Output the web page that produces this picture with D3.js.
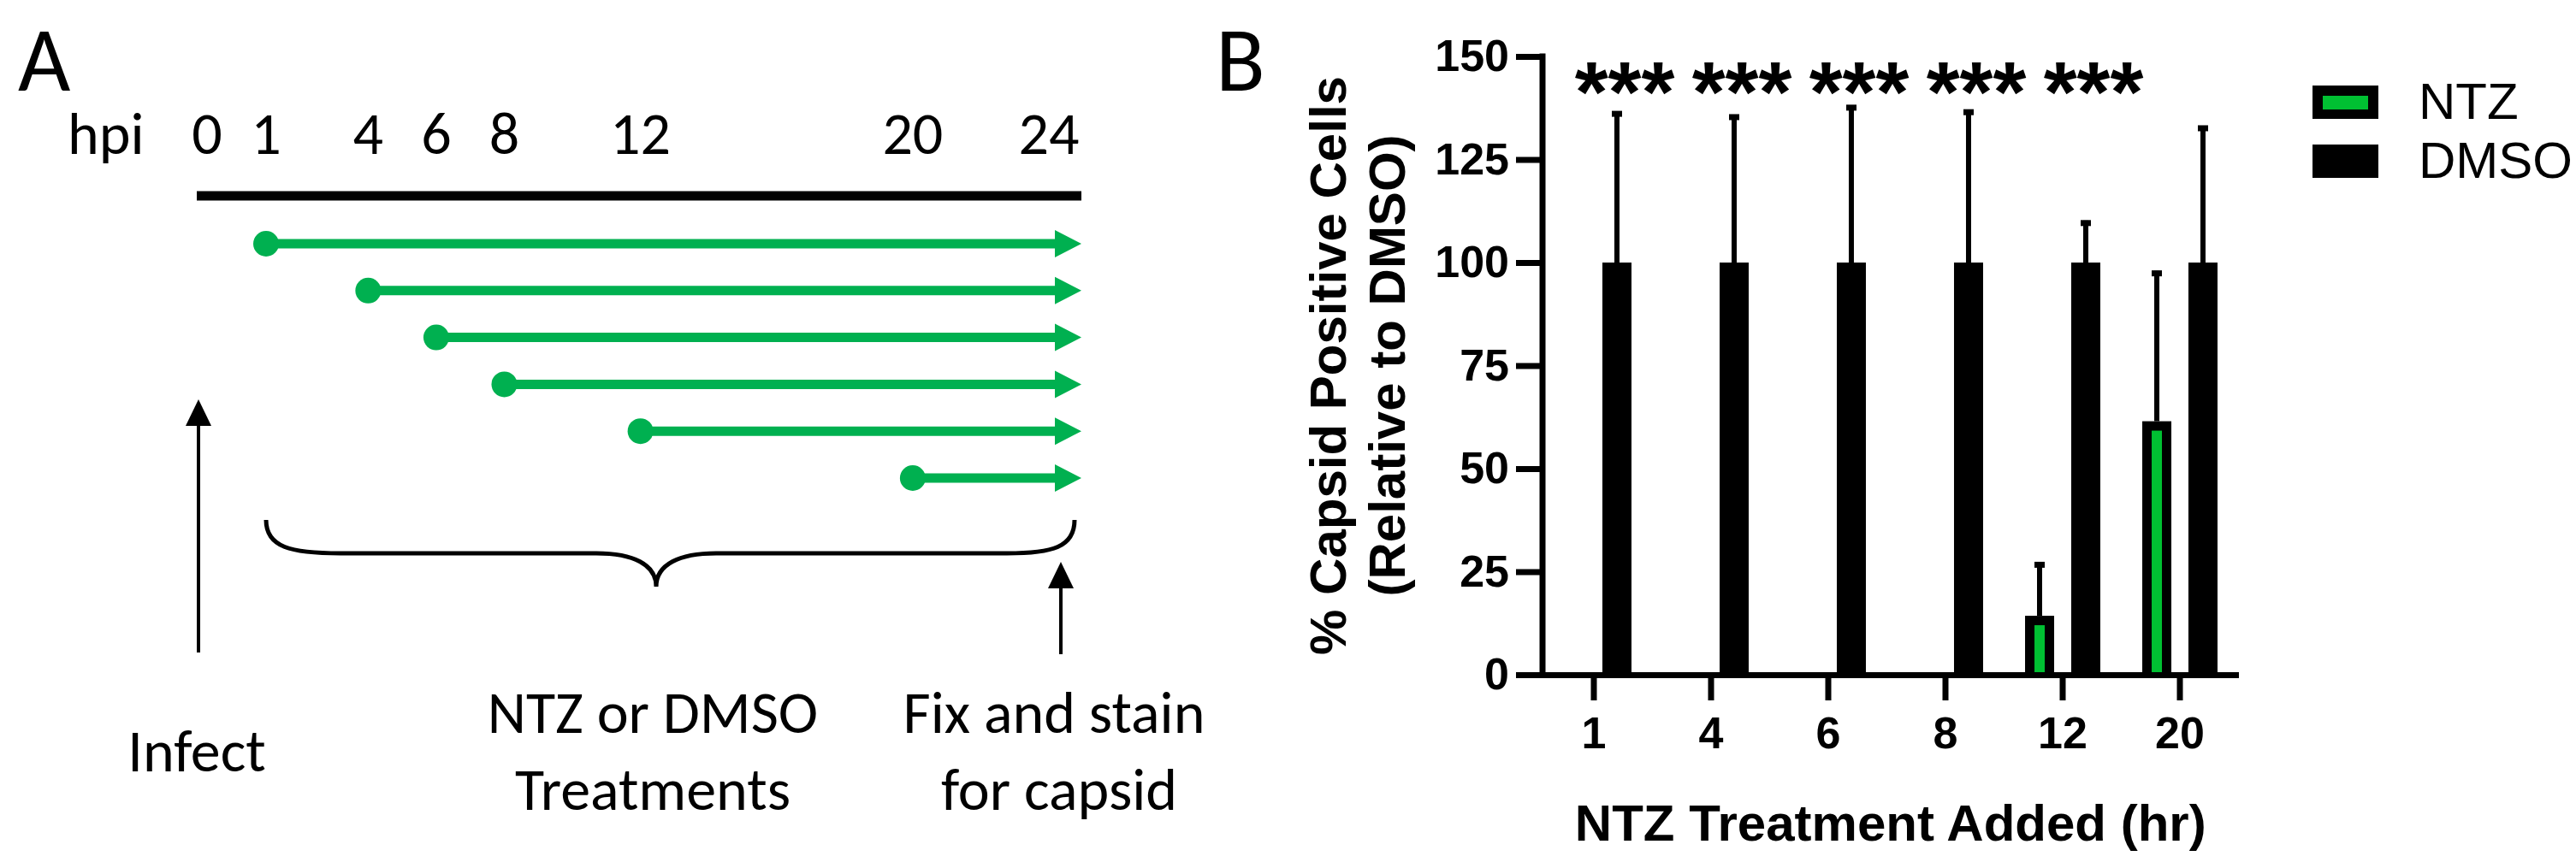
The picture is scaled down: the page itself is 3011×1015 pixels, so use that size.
<!DOCTYPE html>
<html>
<head>
<meta charset="utf-8">
<script src="https://cdn.jsdelivr.net/npm/d3@7"></script>
<style>
  html, body { margin: 0; padding: 0; background: #ffffff; }
  svg { display: block; }
</style>
</head>
<body>
<script>
// ---------------- DATA ----------------
// Panel A: timeline (hours post infection)
const hpiTicks = [0, 1, 4, 6, 8, 12, 20, 24];
const treatStarts = [1, 4, 6, 8, 12, 20];
const treatEnd = 24;

// Panel B: bar chart
const categories = ["1", "4", "6", "8", "12", "20"];
const series = ["NTZ", "DMSO"];
const ntzMean = [0, 0, 0, 0, 14.3, 61.5];
const ntzErr  = [0, 0, 0, 0, 13.0, 36.5];
const dmsoMean = [100, 100, 100, 100, 100, 100];
const dmsoErr  = [36.7, 35.9, 38.2, 37.1, 10.2, 33.2];
const significance = ["***", "***", "***", "***", "***", ""];
const yTicks = [0, 25, 50, 75, 100, 125, 150];

// ---------------- SETUP ----------------
const W = 3011, H = 1015;
const svg = d3.select("body").append("svg").attr("width", W).attr("height", H);
svg.append("rect").attr("width", W).attr("height", H).attr("fill", "#ffffff");

const fontA = "Carlito, Calibri, Lato, 'Open Sans', sans-serif";
const fontB = "'Liberation Sans', Arial, Helvetica, sans-serif";
const arrowGreen = "#00B050";
const barGreen = "#00C032";

// ================= PANEL A =================
const gA = svg.append("g");
gA.append("text").attr("x", 21).attr("y", 106).attr("font-family", fontA)
  .attr("font-size", 106).attr("fill", "#000").text("A");

// the drawn timeline leaves a wider gap between 0 and 1 hpi
const xh = d3.scaleLinear().domain([0, 1, treatEnd]).range([242, 311, 1226]);
const fsA = 70;

gA.append("text").attr("x", 79).attr("y", 180).attr("font-family", fontA)
  .attr("font-size", fsA).attr("fill", "#000").text("hpi");
gA.selectAll("text.hpi").data(hpiTicks).join("text").attr("class", "hpi")
  .attr("x", d => xh(d)).attr("y", 180).attr("text-anchor", "middle")
  .attr("font-family", fontA).attr("font-size", fsA).attr("fill", "#000")
  .text(d => d);

const lineStart = xh(0) - 12, tipX = xh(treatEnd) + 38;
gA.append("line").attr("x1", lineStart).attr("x2", tipX).attr("y1", 229).attr("y2", 229)
  .attr("stroke", "#000").attr("stroke-width", 11);

const row = d3.scalePoint().domain(treatStarts).range([285, 559]);
const arrows = gA.selectAll("g.arrow").data(treatStarts).join("g").attr("class", "arrow");
arrows.append("line")
  .attr("x1", d => xh(d)).attr("x2", tipX - 28)
  .attr("y1", d => row(d)).attr("y2", d => row(d))
  .attr("stroke", arrowGreen).attr("stroke-width", 11);
arrows.append("circle").attr("cx", d => xh(d)).attr("cy", d => row(d)).attr("r", 15)
  .attr("fill", arrowGreen);
arrows.append("path")
  .attr("d", d => `M${tipX},${row(d)} L${tipX - 31},${row(d) - 16} L${tipX - 31},${row(d) + 16} Z`)
  .attr("fill", arrowGreen);

// black up arrows
function upArrow(x, yBottom, yTip) {
  gA.append("line").attr("x1", x).attr("x2", x).attr("y1", yBottom).attr("y2", yTip + 25)
    .attr("stroke", "#000").attr("stroke-width", 4);
  gA.append("path").attr("d", `M${x},${yTip} L${x - 15},${yTip + 31} L${x + 15},${yTip + 31} Z`)
    .attr("fill", "#000");
}
upArrow(232, 763, 467);
upArrow(1240, 765, 657);

// brace
gA.append("path")
  .attr("d", "M311,608 C311,640 340,647 398,647 L697,647 C740,647 767,660 767,686 " +
             "C767,660 794,647 837,647 L1177,647 C1230,647 1256,640 1256,608")
  .attr("fill", "none").attr("stroke", "#000").attr("stroke-width", 5);

const labA = [
  {t: "Infect", x: 230, y: 902},
  {t: "NTZ or DMSO", x: 763, y: 857},
  {t: "Treatments", x: 763, y: 947},
  {t: "Fix and stain", x: 1232, y: 857},
  {t: "for capsid", x: 1238, y: 947}
];
gA.selectAll("text.lab").data(labA).join("text").attr("class", "lab")
  .attr("x", d => d.x).attr("y", d => d.y).attr("text-anchor", "middle")
  .attr("font-family", fontA).attr("font-size", fsA).attr("fill", "#000").text(d => d.t);

// ================= PANEL B =================
const gB = svg.append("g");
gB.append("text").attr("x", 1421).attr("y", 106).attr("font-family", fontA)
  .attr("font-size", 106).attr("fill", "#000").text("B");

const y = d3.scaleLinear().domain([0, 150]).range([789, 66]);
const x0 = d3.scaleBand().domain(categories).range([1794.5, 2616.5])
  .paddingInner(0.358).paddingOuter(0.179);
const x1 = d3.scaleBand().domain(series).range([0, x0.bandwidth()]).paddingInner(0.37);
const axisX = 1803;
const sw = 7;

// bars
const rows = categories.map((c, i) => ({
  c, i,
  vals: [
    {s: "NTZ", v: ntzMean[i], e: ntzErr[i]},
    {s: "DMSO", v: dmsoMean[i], e: dmsoErr[i]}
  ]
}));
const grp = gB.selectAll("g.grp").data(rows).join("g").attr("class", "grp")
  .attr("transform", d => `translate(${x0(d.c)},0)`);

const bars = grp.selectAll("g.bar").data(d => d.vals.filter(v => v.v > 0)).join("g").attr("class", "bar");
// error bars (upper only)
bars.filter(d => d.e > 0).append("line")
  .attr("x1", d => x1(d.s) + x1.bandwidth() / 2).attr("x2", d => x1(d.s) + x1.bandwidth() / 2)
  .attr("y1", d => y(d.v)).attr("y2", d => y(d.v + d.e))
  .attr("stroke", "#000").attr("stroke-width", 6);
bars.filter(d => d.e > 0).append("line")
  .attr("x1", d => x1(d.s) + x1.bandwidth() / 2 - 6).attr("x2", d => x1(d.s) + x1.bandwidth() / 2 + 6)
  .attr("y1", d => y(d.v + d.e) + 3).attr("y2", d => y(d.v + d.e) + 3)
  .attr("stroke", "#000").attr("stroke-width", 7);
bars.append("rect")
  .attr("x", d => x1(d.s)).attr("width", x1.bandwidth())
  .attr("y", d => y(d.v)).attr("height", d => y(0) - y(d.v))
  .attr("fill", "#000");
const border = 11;
bars.filter(d => d.s === "NTZ").append("rect")
  .attr("x", d => x1(d.s) + border).attr("width", x1.bandwidth() - 2 * border)
  .attr("y", d => y(d.v) + border).attr("height", d => Math.max(0, y(0) - y(d.v) - border - 3))
  .attr("fill", barGreen);

// y axis
const yAxis = gB.append("g").attr("transform", `translate(${axisX},0)`)
  .call(d3.axisLeft(y).tickValues(yTicks).tickSize(31).tickSizeOuter(0).tickPadding(8));
// x axis
const xAxis = gB.append("g").attr("transform", `translate(0,${y(0)})`)
  .call(d3.axisBottom(x0).tickSize(30).tickSizeOuter(0).tickPadding(19));

[yAxis, xAxis].forEach(a => {
  a.select(".domain").attr("stroke", "#000").attr("stroke-width", sw);
  a.selectAll(".tick line").attr("stroke", "#000").attr("stroke-width", sw);
  a.selectAll(".tick text").attr("fill", "#000").attr("font-family", fontB)
    .attr("font-weight", "bold").attr("font-size", 52);
});
yAxis.select(".domain").attr("d", `M0,${y(0) + 3.5}V${y(150) - 3.5}`);

// significance stars
gB.selectAll("text.sig").data(categories.map((c, i) => ({c, s: significance[i]})).filter(d => d.s))
  .join("text").attr("class", "sig")
  .attr("x", d => x0(d.c) + x0.bandwidth() / 2 + 36).attr("y", 142)
  .attr("text-anchor", "middle").attr("font-family", fontB).attr("font-weight", "bold")
  .attr("font-size", 100).attr("fill", "#000").text(d => d.s);

// axis titles
const yMid = (y(0) + y(150)) / 2;
gB.append("text").attr("transform", `translate(1573,${yMid}) rotate(-90)`)
  .attr("text-anchor", "middle").attr("font-family", fontB).attr("font-weight", "bold")
  .attr("font-size", 60).attr("fill", "#000").text("% Capsid Positive Cells");
gB.append("text").attr("transform", `translate(1642,${yMid}) rotate(-90)`)
  .attr("text-anchor", "middle").attr("font-family", fontB).attr("font-weight", "bold")
  .attr("font-size", 60).attr("fill", "#000").text("(Relative to DMSO)");
gB.append("text").attr("x", (axisX + 2616.5) / 2).attr("y", 983)
  .attr("text-anchor", "middle").attr("font-family", fontB).attr("font-weight", "bold")
  .attr("font-size", 60).attr("fill", "#000").text("NTZ Treatment Added (hr)");

// legend
const leg = gB.selectAll("g.leg").data(series).join("g").attr("class", "leg")
  .attr("transform", (d, i) => `translate(2703,${100 + i * 69})`);
leg.append("rect").attr("width", 77).attr("height", 39).attr("fill", "#000");
leg.filter(d => d === "NTZ").append("rect").attr("x", 12).attr("y", 12)
  .attr("width", 53).attr("height", 16).attr("fill", barGreen);
leg.append("text").attr("x", 124).attr("y", 39).attr("font-family", fontB)
  .attr("font-size", 60).attr("fill", "#000").text(d => d);
</script>
</body>
</html>
